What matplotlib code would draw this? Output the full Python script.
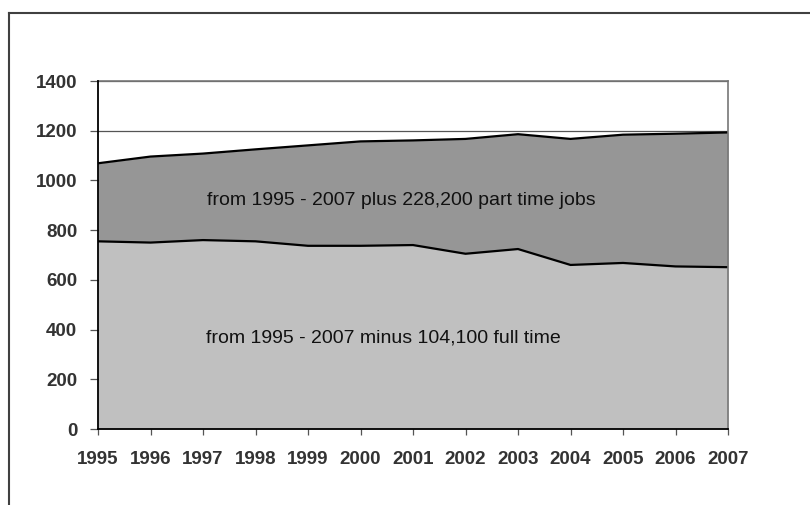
import matplotlib
matplotlib.use("Agg")
import matplotlib.pyplot as plt
from matplotlib.lines import Line2D

years = [1995, 1996, 1997, 1998, 1999, 2000, 2001, 2002, 2003, 2004, 2005, 2006, 2007]
full_time = [755, 750, 760, 755, 737, 737, 740, 705, 724, 660, 668, 654, 651]
total_jobs = [1069, 1096, 1108, 1125, 1141, 1157, 1161, 1167, 1186, 1167, 1184, 1188, 1193]
y_ticks = [0, 200, 400, 600, 800, 1000, 1200, 1400]
part_time_note = "from 1995 - 2007 plus 228,200 part time jobs"
full_time_note = "from 1995 - 2007 minus 104,100 full time"

W, H = 810, 505
fig = plt.figure(figsize=(W / 100, H / 100), dpi=100)
ax = fig.add_axes([98 / W, (H - 429) / H, (728 - 98) / W, (429 - 81) / H])

# grid lines sit behind the filled areas
for v in y_ticks[1:]:
    ax.axhline(v, color="#555555", lw=0.9, zorder=0)

ax.fill_between(years, 0, full_time, color="#C0C0C0", zorder=1, lw=0)
ax.fill_between(years, full_time, total_jobs, color="#969696", zorder=1, lw=0)
ax.plot(years, full_time, color="black", lw=1.6, zorder=2)
ax.plot(years, total_jobs, color="black", lw=1.6, zorder=2)

ax.set_xlim(years[0], years[-1])
ax.set_ylim(0, 1400)
ax.set_xticks(years)
ax.set_yticks(y_ticks)

tick_font = dict(family="Liberation Sans", weight="bold", size=13.5)
ax.set_xticklabels([str(y) for y in years], color="#333333", **tick_font)
ax.set_yticklabels([str(v) for v in y_ticks], color="#333333", **tick_font)
ax.tick_params(axis="y", direction="out", length=6, width=0.9, color="#555555", pad=9)
ax.tick_params(axis="x", direction="out", length=4, width=0.9, color="#555555", pad=12)

for side in ("left", "bottom"):
    ax.spines[side].set_color("black")
    ax.spines[side].set_linewidth(1.3)
for side in ("top", "right"):
    ax.spines[side].set_color("#777777")
    ax.spines[side].set_linewidth(1.2)
ax.spines["left"].set_zorder(3)
ax.spines["bottom"].set_zorder(3)

note_font = dict(family="Liberation Sans", size=14, color="#111111", va="center", ha="left")
ax.text(1997.08, 921, part_time_note, zorder=4, **note_font)
ax.text(1997.06, 367, full_time_note, zorder=4, **note_font)

# outer frame edges
fig.add_artist(Line2D([9 / W, 9 / W], [0, (H - 13) / H], transform=fig.transFigure,
                      color="#404040", lw=1.5))
fig.add_artist(Line2D([9 / W, 1], [(H - 13) / H, (H - 13) / H], transform=fig.transFigure,
                      color="#404040", lw=1.5))

fig.savefig("out.png", dpi=100, facecolor="white")
